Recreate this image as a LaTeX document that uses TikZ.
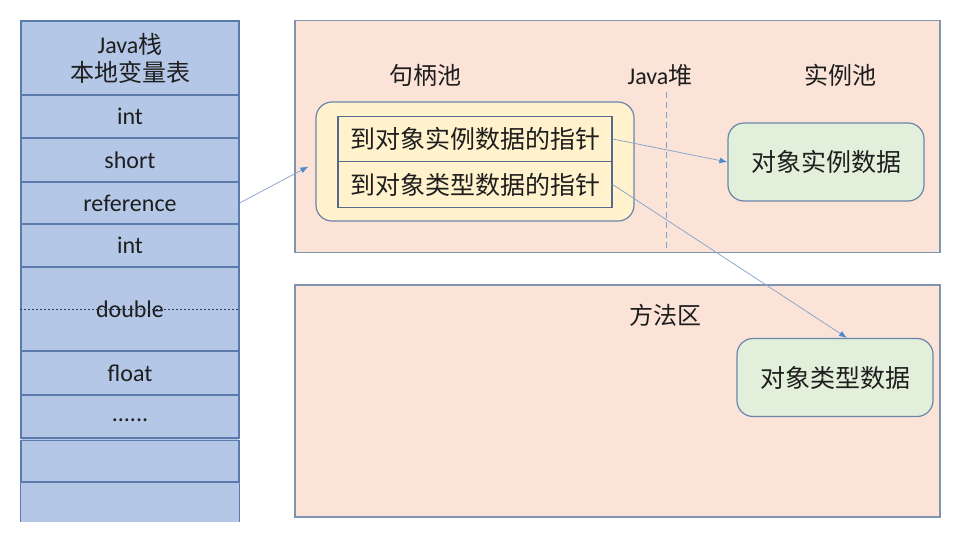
\documentclass[tikz,border=0pt]{standalone}
\usepackage{fontspec}
\setmainfont{Carlito}
\newfontfamily\cjk{Noto Sans CJK SC}
\usetikzlibrary{arrows.meta}
\definecolor{stackfill}{HTML}{B4C7E7}
\definecolor{stackline}{HTML}{5A7BAC}
\definecolor{areafill}{HTML}{FBE3D8}
\definecolor{arealine}{HTML}{8094B2}
\definecolor{poolfill}{HTML}{FFF2CC}
\definecolor{boxline}{HTML}{6A86AC}
\definecolor{objfill}{HTML}{E2EFDA}
\definecolor{arrowline}{HTML}{8CA8CC}
\definecolor{arrowtip}{HTML}{4F8ACB}
\definecolor{ink}{HTML}{1E1E1E}
\tikzset{
  cell/.style={draw=stackline, line width=1.1pt, minimum width=218pt, inner sep=0pt, text=ink, font=\fontsize{24}{28}\selectfont},
  area/.style={draw=arealine, fill=areafill, line width=1.2pt, inner sep=0pt, minimum width=645pt, minimum height=232pt},
  lbl/.style={text=ink, font=\cjk\fontsize{24}{28}\selectfont},
  pool/.style={draw=boxline, fill=poolfill, line width=1.2pt, rounded corners=16pt, minimum width=318pt, minimum height=119pt},
  ptr/.style={draw=boxline!80!black, fill=poolfill, line width=1.2pt, minimum width=274pt, minimum height=45.5pt, inner sep=0pt, text=ink, font=\cjk\fontsize{25}{28}\selectfont},
  obj/.style={draw=boxline, fill=objfill, line width=1.2pt, rounded corners=16pt, minimum width=196pt, minimum height=78pt, text=ink, font=\cjk\fontsize{25}{28}\selectfont},
  conn/.style={draw=arrowline, line width=0.8pt, -{Latex[length=8pt,width=6pt,color=arrowtip]}},
  divider/.style={draw=arrowtip!80, line width=1pt, dash pattern=on 6pt off 4pt}
}
\begin{document}
\begin{tikzpicture}[x=1pt,y=-1pt]
\useasboundingbox (0,0) rectangle (958,541);
% Java stack
\fill[stackfill] (21,21) rectangle (239,522);
\node[cell, minimum height=74pt, align=center] (head) at (130,58) {Java{\cjk 栈}\\{\cjk 本地变量表}};
\foreach \name/\cy/\h/\txt in {int1/116.5/43/int, short/160/44/short, ref/203/42/reference, int2/245.5/43/int,
  dbl/309/84/double, flt/373/44/float, dots/416.5/43/{\smash{\raisebox{-5pt}{......}}}, emp/461.25/41.5/{}}
  \node[cell, minimum height=\h pt] (\name) at (130,\cy) {\txt};
\draw[stackline!50!black, line width=0.6pt, dash pattern=on 2pt off 2pt] (dbl.west) -- (dbl.east);
\node[minimum width=218pt, minimum height=40pt, inner sep=0pt] (tail) at (130,502) {};
\draw[stackline, line width=1.1pt] (tail.north west) -- (tail.south west) (tail.north east) -- (tail.south east);
% heap and method area
\node[area] (heap) at (617.5,136.5) {};
\node[area] (method) at (617.5,401) {};
\node[lbl] (poolname) at (425,75) {句柄池};
\node[lbl] (heapname) at (660,75) {\rmfamily Java{\cjk 堆}};
\node[lbl] (instname) at (840,75) {实例池};
\node[lbl] (methodname) at (665,315) {方法区};
\coordinate (divtop) at (666,92);
\draw[divider] (divtop) -- (divtop |- heap.south);
% handle pool
\node[pool] (pool) at (475,161.5) {};
\node[ptr] (ptr1) at (475,139) {到对象实例数据的指针};
\node[ptr] (ptr2) at (475,184.5) {到对象类型数据的指针};
\node[obj] (inst) at (826,162) {对象实例数据};
\node[obj] (type) at (835,377.5) {对象类型数据};
% references
\draw[conn] (ref.east) -- ([xshift=-7pt,yshift=-5pt]pool.west);
\draw[conn] (ptr1.east) -- (inst.west);
\draw[conn] (ptr2.east) -- ([xshift=12pt]type.north);
\end{tikzpicture}
\end{document}
